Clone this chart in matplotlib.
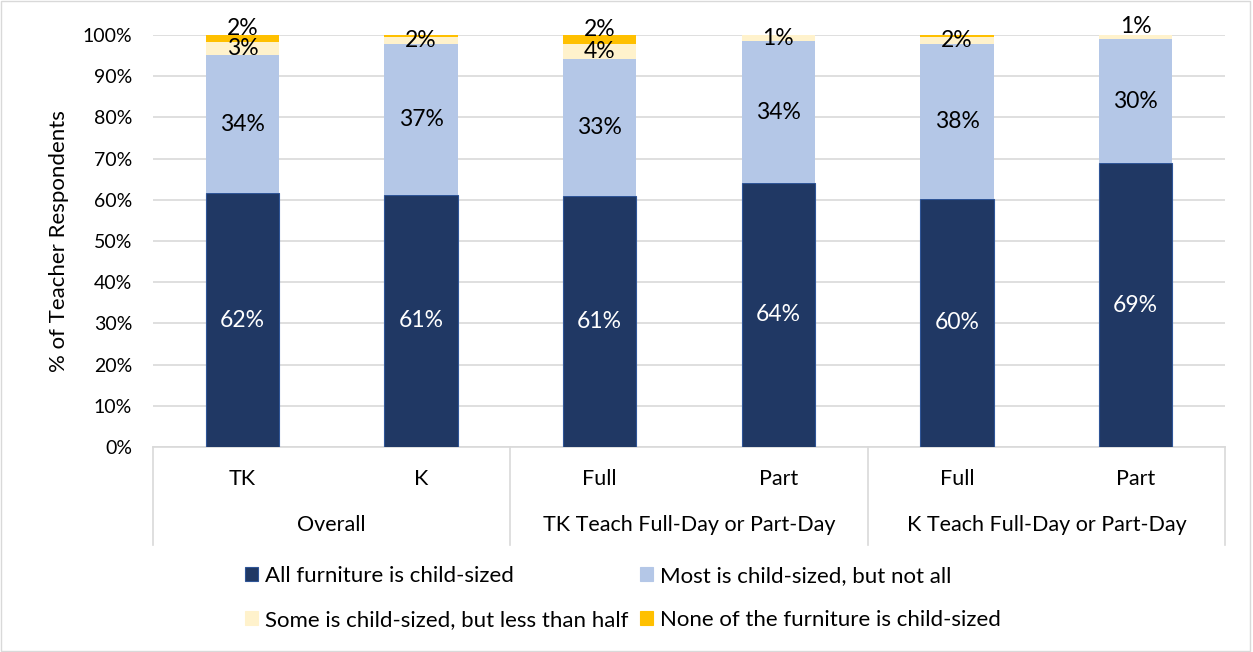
import numpy as np
import matplotlib.pyplot as plt
from matplotlib.patches import Patch, Rectangle

plt.rcParams['font.family'] = ['Lato', 'DejaVu Sans']

# Datos (en %)
categorias = ['TK', 'K', 'Full', 'Part', 'Full', 'Part']
grupos = ['Overall', 'TK Teach Full-Day or Part-Day', 'K Teach Full-Day or Part-Day']
series = ['All furniture is child-sized', 'Most is child-sized, but not all',
          'Some is child-sized, but less than half', 'None of the furniture is child-sized']
todo = [61.6, 61.2, 60.9, 64.1, 60.2, 68.9]
mayoria = [33.6, 36.6, 33.3, 34.4, 37.6, 30.1]
algo = [3.1, 1.8, 3.6, 1.4, 1.8, 1.0]
nada = [1.7, 0.4, 2.2, 0.0, 0.4, 0.0]

colores = ['#203864', '#B4C7E7', '#FFF2CC', '#FFC000']
valores = [todo, mayoria, algo, nada]

fig = plt.figure(figsize=(12.53, 6.52), dpi=100)
ax = fig.add_axes([0.1221, 0.3144, 0.8556, 0.6319])

x = np.arange(len(categorias))
ancho = 0.41
base = np.zeros(len(categorias))
for i, (vals, col) in enumerate(zip(valores, colores)):
    vals = np.array(vals)
    if i == 0:
        ax.bar(x, vals, ancho, bottom=base, color=col, edgecolor='#2F5597', linewidth=0.8, zorder=3)
    else:
        ax.bar(x, vals, ancho, bottom=base, color=col, linewidth=0, zorder=3)
    for j, v in enumerate(vals):
        if round(v) < 1:
            continue
        y = base[j] + v / 2
        # etiquetas pequeñas desplazadas hacia arriba
        if i == 3 or (i == 2 and j == 5):
            y += 2.5
        ax.text(x[j], y, f'{round(v):.0f}%', ha='center', va='center',
                fontsize=16.5, color='white' if i == 0 else 'black', zorder=4, clip_on=False)
    base += vals

ax.set_ylim(0, 100)
ax.set_xlim(-0.5, len(categorias) - 0.5)
ax.set_yticks(np.arange(0, 101, 10))
ax.set_yticklabels([f'{v}%' for v in range(0, 101, 10)], fontsize=14)
ax.yaxis.grid(True, color='#D9D9D9', linewidth=1.2, zorder=0)
ax.set_axisbelow(True)
ax.tick_params(axis='y', length=0, pad=15)
ax.set_xticks(x)
ax.set_xticklabels(categorias, fontsize=15.5)
ax.tick_params(axis='x', length=0, pad=16)
for s in ['top', 'right', 'left']:
    ax.spines[s].set_visible(False)
ax.spines['bottom'].set_color('#D9D9D9')
ax.spines['bottom'].set_linewidth(1.2)

ax.set_ylabel('% of Teacher Respondents', fontsize=16)
ax.yaxis.set_label_coords(-0.0785, 0.5)

# Etiquetas de grupo y separadores
trans = ax.get_xaxis_transform()
for g, nombre in enumerate(grupos):
    ax.text(2 * g + 0.5, -0.19, nombre, transform=trans, ha='center', va='center', fontsize=15.5)
for sep in [-0.5, 1.5, 3.5, 5.5]:
    ax.plot([sep, sep], [0, -0.238], transform=trans, color='#D9D9D9', linewidth=1.2, clip_on=False)

# Leyenda (orden por filas)
handles = [Patch(facecolor=c, edgecolor='#2F5597' if k == 0 else c, linewidth=0.8) for k, c in enumerate(colores)]
orden = [0, 2, 1, 3]
fig.legend([handles[k] for k in orden], [series[k] for k in orden], loc='center',
           bbox_to_anchor=(0.497, 0.083), ncol=2, frameon=False, fontsize=16,
           handlelength=0.6, handleheight=0.6, handletextpad=0.3, columnspacing=0.5,
           labelspacing=1.1)

# Borde del gráfico
fig.patches.append(Rectangle((0.001, 0.002), 0.997, 0.996, transform=fig.transFigure,
                             fill=False, edgecolor='#D9D9D9', linewidth=1))

plt.savefig('out.png', dpi=100)
